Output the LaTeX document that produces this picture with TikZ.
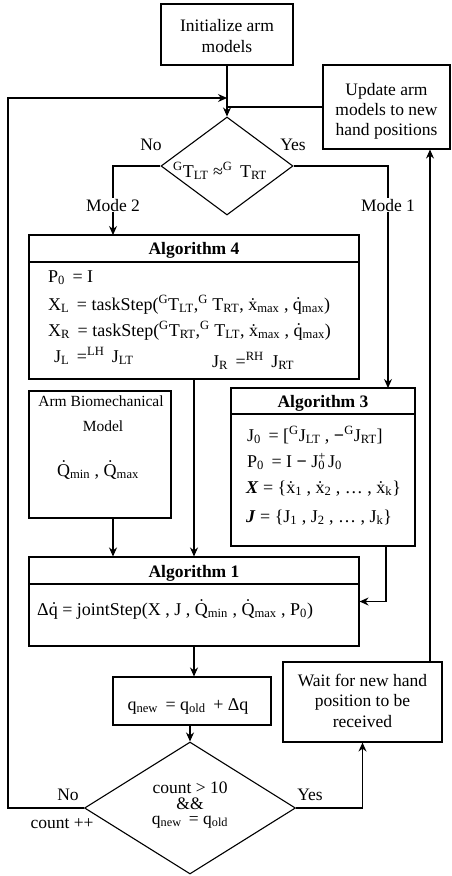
\documentclass[tikz,border=0pt]{standalone}
\usepackage{fontspec}
\setmainfont{Liberation Serif}
\usetikzlibrary{shapes.geometric,arrows.meta}
\newcommand\sbs[1]{\textsubscript{#1}}
\newcommand\sps[1]{\textsuperscript{#1}}
\begin{document}
\begin{tikzpicture}[x=1pt,y=-1pt,
  box/.style={draw,line width=1.1pt,rectangle,inner sep=0pt},
  dia/.style={draw,line width=1.1pt,diamond,inner sep=0pt},
  txt/.style={inner sep=0pt,font=\fontsize{17.5}{20}\selectfont},
  eq/.style={inner sep=0pt,font=\fontsize{18}{20}\selectfont},
  sml/.style={inner sep=0pt,font=\fontsize{15.5}{18}\selectfont},
  hdr/.style={inner sep=0pt,font=\fontsize{17.5}{20}\selectfont\bfseries},
  lbl/.style={inner sep=1pt,fill=white,font=\fontsize{17.5}{20}\selectfont},
  conn/.style={line width=1.1pt},
  arr/.style={line width=1.1pt,-{Stealth[length=9pt,width=8pt]}},
  sep/.style={line width=1.1pt}
]
\fill[white] (0,0) rectangle (451,876);
\useasboundingbox (0,0) rectangle (451,876);

% boxes
\node[box,minimum width=132pt,minimum height=61pt] (init) at (227,34.5) {};
\node[box,minimum width=127pt,minimum height=84pt] (update) at (386.5,107) {};
\node[dia,minimum width=132pt,minimum height=98pt] (d1) at (227,166) {};
\node[box,minimum width=330pt,minimum height=144pt] (alg4) at (194,307) {};
\node[box,minimum width=142pt,minimum height=127pt] (arm) at (100,454.5) {};
\node[box,minimum width=184pt,minimum height=158pt] (alg3) at (323,467) {};
\node[box,minimum width=330pt,minimum height=89pt] (alg1) at (194,601.5) {};
\node[box,minimum width=158pt,minimum height=48pt] (qn) at (192,701) {};
\node[dia,minimum width=211pt,minimum height=132pt] (d2) at (190,808) {};
\node[box,minimum width=159pt,minimum height=80pt] (wait) at (362.5,702) {};

% header separators
\draw[sep] (alg4.west |- 0,262) coordinate (s4a) -- (alg4.east |- 0,262) coordinate (s4b);
\draw[sep] (alg3.west |- 0,414) coordinate (s3a) -- (alg3.east |- 0,414) coordinate (s3b);
\draw[sep] (alg1.west |- 0,584) coordinate (s1a) -- (alg1.east |- 0,584) coordinate (s1b);

% texts
\node[txt,anchor=base] (t1) at (227,31) {Initialize arm};
\node[txt,anchor=base] (t2) at (227,52) {models};
\node[txt,anchor=base] (u1) at (386.5,95) {Update arm};
\node[txt,anchor=base] (u2) at (386.5,115) {models to new};
\node[txt,anchor=base] (u3) at (386.5,135) {hand positions};
\node[eq,anchor=base west] (dt) at (173,177) {\sps{G}T\sbs{LT} ≈\sps{G}\, T\sbs{RT}};

\node[hdr,anchor=base] (h4) at (194,254) {Algorithm 4};
\node[eq,anchor=base west] (a41) at (48,282) {P\sbs{0} \,= I};
\node[eq,anchor=base west] (a42) at (48,310) {X\sbs{L} \,= taskStep(\sps{G}T\sbs{LT},\sps{G} T\sbs{RT}, ẋ\sbs{max} , q̇\sbs{max})};
\node[eq,anchor=base west] (a43) at (48,336) {X\sbs{R} \,= taskStep(\sps{G}T\sbs{RT},\sps{G} T\sbs{LT}, ẋ\sbs{max} , q̇\sbs{max})};
\node[eq,anchor=base west] (a44) at (54,362) {J\sbs{L} \,=\sps{LH} \,J\sbs{LT}};
\node[eq,anchor=base west] (a45) at (212,367) {J\sbs{R} \,=\sps{RH} \,J\sbs{RT}};

\node[sml,anchor=base] (m1) at (101,406) {Arm Biomechanical};
\node[sml,anchor=base] (m2) at (103,431) {Model};
\node[eq,anchor=base] (m3) at (98,476) {Q̇\sbs{min} , Q̇\sbs{max}};

\node[hdr,anchor=base] (h3) at (323,407) {Algorithm 3};
\node[eq,anchor=base west] (a31) at (247,441) {J\sbs{0} \,= [\sps{G}J\sbs{LT} , \textbf{−}\sps{G}J\sbs{RT}]};
\node[eq,anchor=base west] (a32) at (247,467) {P\sbs{0} \,= I \textbf{−} J\rlap{\sps{+}}\sbs{0}\,J\sbs{0}};
\node[eq,anchor=base west] (a33) at (246,493) {\textbf{\textit{X}} = \{ẋ\sbs{1} , ẋ\sbs{2} , … , ẋ\sbs{k}\}};
\node[eq,anchor=base west] (a34) at (246,522) {\textbf{\textit{J}} = \{J\sbs{1} , J\sbs{2} , … , J\sbs{k}\}};

\node[hdr,anchor=base] (h1) at (194,577) {Algorithm 1};
\node[eq,anchor=base west] (a11) at (37,615) {Δq̇ = jointStep(X , J , Q̇\sbs{min} , Q̇\sbs{max} , P\sbs{0})};

\node[eq,anchor=base] (qt) at (188,710) {q\sbs{new} \,= q\sbs{old} \,+ Δq};
\node[txt,anchor=base] (c1) at (190,793) {count > 10};
\node[txt,anchor=base] (c2) at (190,809) {\&\&};
\node[txt,anchor=base] (c3) at (190,824) {q\sbs{new} \,= q\sbs{old}};

\node[txt,anchor=base] (w1) at (362.5,686) {Wait for new hand};
\node[txt,anchor=base] (w2) at (362.5,706) {position to be};
\node[txt,anchor=base] (w3) at (362.5,727) {received};

% connectors
\draw[arr] (init.south) -- (d1.north);
\draw[conn] (update.west) -- (update.west -| init.south);
\coordinate (lp) at (8,98);
\coordinate (lpend) at (227,98);
\draw[arr] (d2.west) -| (lp) -- (lpend);
\coordinate (m2top) at (113,235);
\draw[arr] (d1.west) -| (m2top);
\coordinate (m1top) at (388,388);
\draw[arr] (d1.east) -| (m1top);
\node[lbl,anchor=base] (mode2) at (113,211) {Mode 2};
\node[lbl,anchor=base] (mode1) at (388,211) {Mode 1};
\node[txt,anchor=base] (no1) at (151,150) {No};
\node[txt,anchor=base] (yes1) at (293,150) {Yes};

\draw[arr] (alg4.south) -- (alg1.north);
\coordinate (armb) at (113,518);
\draw[arr] (armb) -- (armb |- alg1.north);
\coordinate (a3b) at (386,546);
\draw[arr] (a3b) |- (alg1.east);
\draw[arr] (alg1.south) -- (alg1.south |- qn.north);
\draw[arr] (qn.south -| d2.north) -- (d2.north);
\draw[arr] (d2.east) -| (wait.south);
\coordinate (wt) at (430,662);
\draw[arr] (wt) -- (wt |- update.south);

\node[txt,anchor=base] (no2) at (68,800) {No};
\node[txt,anchor=base] (cnt) at (62,828) {count ++};
\node[txt,anchor=base] (yes2) at (310,800) {Yes};
\end{tikzpicture}
\end{document}
